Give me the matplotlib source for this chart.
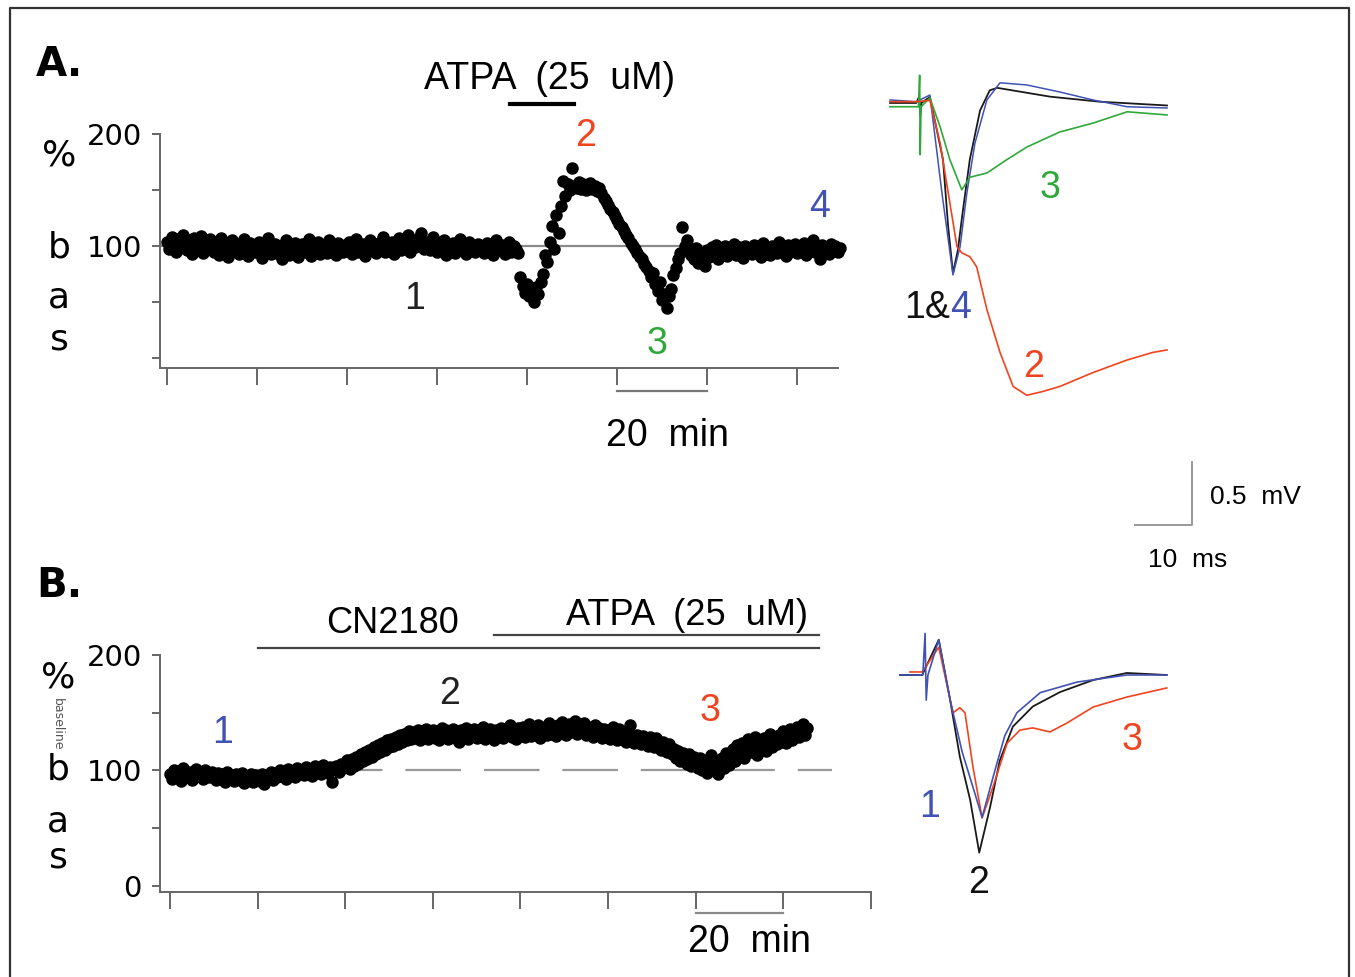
import numpy as np
import matplotlib
matplotlib.use('Agg')
import matplotlib.pyplot as plt
from matplotlib import font_manager

# ---- panel A: fEPSP slope, % baseline, one point every 0.5 min ----
a_step = 0.5
a_pct = [
    104, 97, 108, 101, 95, 106, 99, 110, 102, 96, 105, 93, 107, 100, 98, 109, 94, 103, 99, 106,
    101, 95, 104, 92, 107, 98, 103, 90, 100, 105, 96, 102, 93, 99, 106, 97, 91, 103, 100, 95,
    98, 104, 89, 101, 96, 107, 93, 99, 102, 94, 100, 88, 97, 105, 92, 101, 96, 103, 90, 99,
    102, 95, 98, 106, 91, 100, 97, 104, 93, 99, 101, 94, 105, 96, 100, 92, 103, 98, 95, 101,
    97, 104, 93, 100, 106, 95, 99, 102, 91, 98, 105, 96, 100, 94, 103, 99, 108, 95, 101, 97,
    104, 93, 100, 107, 96, 102, 98, 110, 95, 103, 99, 106, 101, 112, 97, 104, 100, 96, 108, 102,
    95, 101, 98, 105, 92, 100, 97, 103, 94, 99, 106, 96, 101, 93, 104, 98, 100, 95, 102, 97,
    99, 94, 103, 97, 100, 92, 105, 98, 96, 101, 93, 99, 104, 95, 100, 97, 94,
    72, 64, 58, 66, 55, 61, 50, 63, 57, 68,
    75, 92, 86, 104, 118, 97, 128, 112, 136, 158,
    145, 155, 150, 170, 154, 152, 157, 151, 155, 150,
    153, 156, 151, 154, 149, 152, 147, 143, 140, 137,
    133, 130, 127, 123, 120, 117, 113, 110, 107, 103,
    100, 97, 94, 90, 88, 84, 81, 78, 72, 76,
    66, 60, 68, 52, 57, 45, 55, 62, 74, 80,
    88, 94, 117, 100, 105, 96, 92, 88, 98, 85,
    93, 90, 82,
    96, 90, 99, 93, 101, 88, 97, 94, 100, 91, 98, 95, 102, 92, 99, 96, 89, 100, 94, 97,
    93, 101, 96, 99, 90, 103, 95, 98, 92, 100, 97, 94, 104, 96, 99, 91, 101, 95, 98, 102,
    94, 99, 96, 103, 92, 100, 97, 105, 95, 98, 88, 101, 96, 99, 93, 102, 97, 100, 95, 98,
]

# ---- panel B ----
b_step = 0.5
b_pct = [
    97, 93, 100, 95, 98, 91, 102, 96, 94, 99, 92, 97, 101, 95, 98, 93, 100, 96, 94, 99,
    95, 92, 98, 94, 97, 90, 99, 93, 96, 91, 97, 94, 92, 98, 89, 95, 93, 97, 90, 96,
    94, 91, 97, 88, 95, 93, 99, 92, 96, 94, 100, 95, 98, 93, 101, 96, 99, 94, 102, 97,
    100, 96, 103, 98, 101, 95, 104, 99, 102, 97, 105, 100, 98, 103, 90, 101, 104, 99, 106, 102,
    104, 109, 101, 110, 104, 112, 106, 114, 108, 116, 110, 118, 112, 120, 114, 122, 116, 124, 118, 126,
    120, 127, 121, 129, 123, 131, 125, 132, 126, 134, 127, 133, 128, 135, 126, 134, 129, 136, 127, 133,
    135, 128, 134, 126, 137, 129, 135, 127, 132, 136, 128, 134, 125, 135, 129, 137, 127, 133, 130, 136,
    128, 135, 129, 138, 127, 133, 136, 129, 126, 135, 130, 137, 128, 136, 131, 139, 129, 135, 127, 137,
    131, 138, 129, 136, 140, 130, 137, 132, 139, 128, 136, 138, 131, 141, 132, 137, 130, 139, 133, 142,
    134, 131, 140, 133, 138, 143, 132, 139, 134, 141, 131, 138, 133, 129, 139, 132, 137, 128, 136, 130,
    134, 127, 138, 129, 126, 136, 128, 133, 125, 132, 139, 127, 124, 131, 126, 123, 130, 125, 121, 129,
    126, 120, 128, 122, 118, 125, 119, 116, 123, 114, 119, 111, 117, 108, 115, 109, 106, 114, 104, 112,
    108, 102, 111, 100, 107, 98, 104, 113, 101, 108, 97, 106, 111, 102, 115, 105, 113, 119, 108, 122,
    114, 124, 111, 120, 127, 116, 123, 129, 113, 125, 119, 128, 117, 126, 132, 120, 129, 123, 131, 125,
    134, 124, 130, 136, 126, 133, 138, 129, 135, 140, 131, 137,
]

# ---- sample traces (ms, mV) ----
trA1_t = [0, 4.6, 5.1, 5.3, 5.5, 7.0, 9.3, 10.2, 11.05, 11.9, 12.8, 14.0, 15.8, 17.5, 18.8, 22.8, 28.1, 36.8, 48.6]
trA1_v = [0, 0, 0.05, -0.1, 0, 0.048, -0.45, -0.98, -1.35, -1.17, -0.85, -0.45, -0.06, 0.10, 0.12, 0.09, 0.05, 0.01, -0.02]
trA2_t = [0, 4.6, 7.0, 8.8, 10.2, 11.75, 12.6, 14.0, 15.2, 17.0, 19.3, 21.6, 24.0, 26.8, 29.8, 35.6, 41.6, 46.1, 48.6]
trA2_v = [0.01, 0.01, 0.02, -0.32, -0.71, -1.14, -1.19, -1.22, -1.30, -1.64, -1.98, -2.25, -2.32, -2.29, -2.25, -2.14, -2.04, -1.98, -1.96]
trA3_t = [0, 5.0, 5.2, 5.3, 5.45, 7.0, 8.8, 10.5, 12.6, 14.0, 17.0, 20.5, 24.0, 29.8, 35.6, 41.6, 48.6]
trA3_v = [-0.03, -0.03, 0.22, -0.41, -0.03, 0.04, -0.19, -0.45, -0.69, -0.59, -0.556, -0.45, -0.35, -0.23, -0.16, -0.07, -0.095]
trA4_t = [0, 4.6, 7.0, 9.1, 11.05, 12.3, 13.5, 14.9, 17.0, 19.3, 24.0, 29.8, 35.6, 41.6, 48.6]
trA4_v = [0.024, 0.01, 0.063, -0.71, -1.365, -1.14, -0.71, -0.32, 0.024, 0.16, 0.143, 0.087, 0.024, -0.03, -0.04]

trB1_t = [0, 4.0, 4.4, 4.6, 4.9, 6.8, 8.8, 10.9, 13.2, 14.4, 16.7, 18.4, 20.5, 24.6, 31.1, 39.8, 46.8]
trB1_v = [0, 0, 0.33, -0.2, 0, 0.28, -0.2, -0.61, -0.95, -1.13, -0.75, -0.48, -0.30, -0.14, -0.056, 0, 0]
trB2_t = [0, 3.9, 6.8, 8.8, 10.5, 12.3, 13.9, 15.8, 17.5, 19.8, 23.3, 28.1, 33.9, 39.8, 46.8]
trB2_v = [0, 0, 0.28, -0.2, -0.65, -0.99, -1.41, -1.05, -0.68, -0.41, -0.25, -0.135, -0.04, 0.016, 0]
trB3_t = [1.75, 3.9, 6.8, 9.3, 10.5, 11.4, 12.8, 14.4, 16.3, 18.8, 21.05, 23.3, 26.3, 29.3, 33.9, 39.8, 46.8]
trB3_v = [0.024, 0.024, 0.22, -0.30, -0.26, -0.30, -0.73, -1.135, -0.89, -0.54, -0.437, -0.42, -0.452, -0.381, -0.254, -0.175, -0.103]

RED = '#f2431f'
GREEN = '#2fa83a'
BLUE = '#4152b4'
AXC = '#666666'

names = {f.name for f in font_manager.fontManager.ttflist}
narrow = 'Liberation Sans Narrow' if 'Liberation Sans Narrow' in names else 'Liberation Sans'
plt.rcParams['font.family'] = [narrow, 'DejaVu Sans']
plt.rcParams['lines.scale_dashes'] = False

W, H = 1355, 977
fig = plt.figure(figsize=(W / 100, H / 100), dpi=100)


def px_axes(x0, y0, x1, y1):
    return fig.add_axes([x0 / W, 1 - y1 / H, (x1 - x0) / W, (y1 - y0) / H])


# overlay in pixel coords for frame and panel letters
ov = px_axes(0, 0, W, H)
ov.set_xlim(0, W)
ov.set_ylim(H, 0)
ov.axis('off')
ov.plot([10, 10, 1349, 1349], [990, 8, 8, 990], color='#333333', lw=1.6, clip_on=False)
ov.text(36, 76, 'A.', fontsize=29, fontweight='bold', family='DejaVu Sans', va='baseline')
ov.text(36, 597, 'B.', fontsize=29, fontweight='bold', family='DejaVu Sans', va='baseline')
for ch, y in [('%', 156), ('b', 247), ('a', 297), ('s', 340)]:
    ov.text(59, y, ch, fontsize=26, ha='center', va='center', family='DejaVu Sans')
ov.text(57, 724, 'baseline', fontsize=9, rotation=270, ha='center', va='center',
        color='#555555', family='DejaVu Sans')
for ch, y in [('%', 678), ('b', 770), ('a', 822), ('s', 857)]:
    ov.text(58, y, ch, fontsize=26, ha='center', va='center', family='DejaVu Sans')


def style_axes(ax, xt, yt, ylabels):
    for s in ['top', 'right']:
        ax.spines[s].set_visible(False)
    for s in ['left', 'bottom']:
        ax.spines[s].set_color(AXC)
        ax.spines[s].set_linewidth(1.4)
    ax.set_xticks(xt)
    ax.set_yticks(yt)
    ax.set_yticklabels(ylabels, family='DejaVu Sans')
    ax.tick_params(axis='x', direction='out', length=12, width=1.4, color=AXC, labelbottom=False)
    ax.tick_params(axis='y', direction='out', length=6, width=1.4, color=AXC, pad=7, labelsize=21)
    ax.patch.set_alpha(0)


# ---- panel A time course ----
axA = px_axes(160, 134, 838, 368)
tA = np.arange(len(a_pct)) * a_step
axA.set_xlim(-1.56, 149.1)
axA.set_ylim(-8.9, 200)
axA.plot([-1.56, 149], [100, 100], color='#8a8a8a', lw=1.6, zorder=1)
axA.plot(tA, a_pct, 'o', ms=8, color='black', clip_on=False, zorder=3)
style_axes(axA, np.arange(0, 141, 20), [0, 50, 100, 150, 200], ['', '', '100', '', '200'])
axA.plot([76.2, 90.4], [226.8, 226.8], color='black', lw=3, clip_on=False)
axA.text(85.1, 249, 'ATPA  (25  uM)', fontsize=27, ha='center', va='center')
axA.plot([100, 120], [-29.5, -29.5], color='#777777', lw=1.6, clip_on=False)
axA.text(111.3, -69.6, '20  min', fontsize=27, ha='center', va='center')
axA.text(55.1, 52.7, '1', fontsize=27, ha='center', va='center', color='#222222')
axA.text(92.9, 198, '2', fontsize=27, ha='center', va='center', color=RED)
axA.text(108.9, 12.5, '3', fontsize=27, ha='center', va='center', color=GREEN)
axA.text(145.1, 134.8, '4', fontsize=27, ha='center', va='center', color=BLUE)

# ---- panel B time course ----
axB = px_axes(160, 655, 871, 892)
tB = np.arange(len(b_pct)) * b_step
axB.set_xlim(-2.28, 160)
axB.set_ylim(-5.2, 200)
axB.plot([0, 151], [100, 100], color='#999999', lw=1.6, dashes=(40, 16.5), zorder=1)
axB.plot(tB, b_pct, 'o', ms=8, color='black', clip_on=False, zorder=3)
style_axes(axB, np.arange(0, 161, 20), [0, 50, 100, 150, 200], ['0', '', '100', '', '200'])
axB.plot([20.1, 148.1], [206, 206], color='#444444', lw=1.6, clip_on=False)
axB.plot([74, 148.1], [217.3, 217.3], color='#444444', lw=1.6, clip_on=False)
axB.text(50.9, 227.7, 'CN2180', fontsize=26, ha='center', va='center')
axB.text(118, 233.8, 'ATPA  (25  uM)', fontsize=26, ha='center', va='center')
axB.plot([120, 140], [-23.4, -23.4], color='#888888', lw=1.6, clip_on=False)
axB.text(132.2, -48.5, '20  min', fontsize=27, ha='center', va='center')
axB.text(11.9, 132.5, '1', fontsize=27, ha='center', va='center', color=BLUE)
axB.text(63.9, 166, '2', fontsize=27, ha='center', va='center', color='#222222')
axB.text(123.3, 151.5, '3', fontsize=27, ha='center', va='center', color=RED)

# ---- traces A ----
tra = px_axes(880, 60, 1180, 410)
tra.set_xlim(-1.754, 50.877)
tra.set_ylim(-2.437, 0.341)
tra.axis('off')
tra.plot(trA1_t, trA1_v, color='#1a1a1a', lw=1.3)
tra.plot(trA4_t, trA4_v, color=BLUE, lw=1.1)
tra.plot(trA3_t, trA3_v, color=GREEN, lw=1.2)
tra.plot(trA2_t, trA2_v, color=RED, lw=1.2)
tra.text(28.1, -0.675, '3', fontsize=27, ha='center', va='center', color=GREEN)
tra.text(10.5, -1.627, '1&', fontsize=27, ha='right', va='center', color='#111111')
tra.text(10.5, -1.627, '4', fontsize=27, ha='left', va='center', color=BLUE)
tra.text(25.1, -2.095, '2', fontsize=27, ha='center', va='center', color=RED)
# calibration bar 10 ms / 0.5 mV
tra.plot([43.0, 53.0, 53.0], [-3.349, -3.349, -2.849], color='#999999', lw=1.4, clip_on=False)
tra.text(56.1, -3.127, '0.5  mV', fontsize=19, ha='left', va='center')
tra.text(52.3, -3.627, '10  ms', fontsize=19, ha='center', va='center')

# ---- traces B ----
trb = px_axes(890, 620, 1180, 870)
trb.set_xlim(-1.754, 49.12)
trb.set_ylim(-1.548, 0.4365)
trb.axis('off')
trb.plot(trB2_t, trB2_v, color='#1a1a1a', lw=1.3)
trb.plot(trB3_t, trB3_v, color=RED, lw=1.2)
trb.plot(trB1_t, trB1_v, color=BLUE, lw=1.2)
trb.text(5.26, -1.048, '1', fontsize=27, ha='center', va='center', color=BLUE)
trb.text(13.7, -1.651, '2', fontsize=27, ha='center', va='center', color='#111111')
trb.text(40.7, -0.516, '3', fontsize=27, ha='center', va='center', color=RED)

fig.savefig('out.png', dpi=100)
